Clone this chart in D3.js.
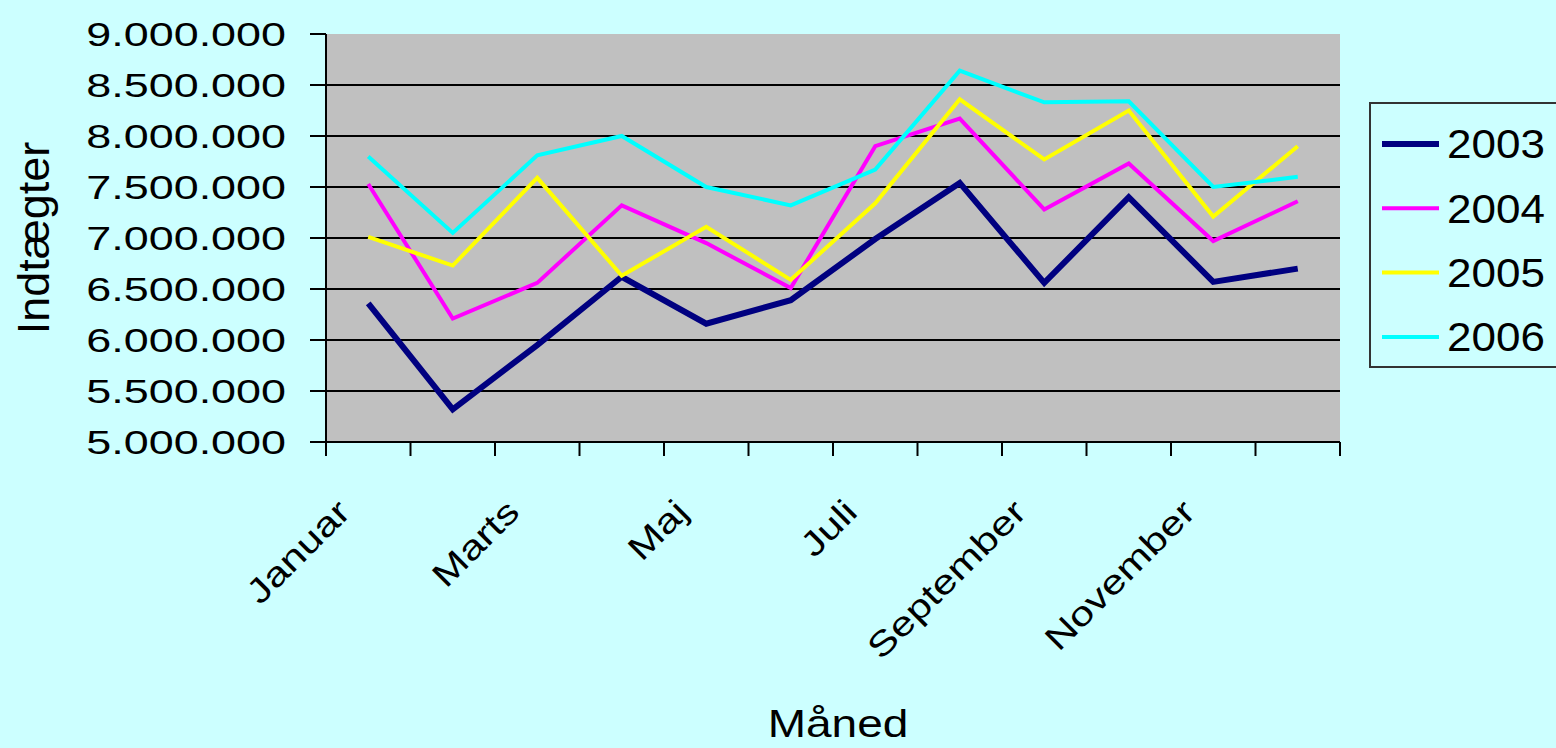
<!DOCTYPE html>
<html>
<head>
<meta charset="utf-8">
<script src="https://cdn.jsdelivr.net/npm/d3@7"></script>
<style>
  body { margin: 0; background: #ccffff; }
  text { font-family: "Liberation Sans", Arial, sans-serif; fill: #000; }
</style>
</head>
<body>
<div id="chart"></div>
<script>
// maanedsindtaegter pr. aar
var months = ["Januar", "Februar", "Marts", "April", "Maj", "Juni",
              "Juli", "August", "September", "Oktober", "November", "December"];
var shownMonths = ["Januar", "Marts", "Maj", "Juli", "September", "November"];
var years = ["2003", "2004", "2005", "2006"];

var v2003 = [6360000, 5320000, 5950000, 6620000, 6160000, 6390000, 6990000, 7540000, 6560000, 7400000, 6570000, 6700000];
var v2004 = [7530000, 6210000, 6560000, 7320000, 6950000, 6510000, 7900000, 8170000, 7280000, 7730000, 6970000, 7360000];
var v2005 = [7010000, 6730000, 7590000, 6630000, 7110000, 6590000, 7340000, 8360000, 7770000, 8250000, 7210000, 7900000];
var v2006 = [7800000, 7050000, 7810000, 8000000, 7500000, 7320000, 7670000, 8640000, 8330000, 8340000, 7500000, 7600000];

var yTicks = [5000000, 5500000, 6000000, 6500000, 7000000, 7500000, 8000000, 8500000, 9000000];
var yTickLabels = ["5.000.000", "5.500.000", "6.000.000", "6.500.000", "7.000.000",
                   "7.500.000", "8.000.000", "8.500.000", "9.000.000"];

var series = [v2003, v2004, v2005, v2006];
var colors = ["#000080", "#ff00ff", "#ffff00", "#00ffff"];
var widths = [6, 4, 4, 4];

var w = 1556;
var h = 748;
var plotL = 326, plotR = 1340, plotT = 34, plotB = 442;

var svg = d3.select("#chart")
    .append("svg")
    .attr("width", w)
    .attr("height", h);

var x = d3.scaleBand()
    .domain(months)
    .range([plotL, plotR])
    .padding(0);

var y = d3.scaleLinear()
    .domain([5000000, 9000000])
    .range([plotB, plotT]);

// stretch text horizontally like the original
function stretch(sel, k) {
  sel.each(function() {
    var l = this.getComputedTextLength();
    d3.select(this).attr("textLength", l * k).attr("lengthAdjust", "spacingAndGlyphs");
  });
}

// plot area
svg.append("rect")
    .attr("x", plotL)
    .attr("y", plotT)
    .attr("width", plotR - plotL)
    .attr("height", plotB - plotT)
    .style("fill", "#c0c0c0");

// gridlines (not at top)
svg.selectAll("line.grid")
    .data(yTicks.slice(1, yTicks.length - 1))
    .enter()
    .append("line")
    .attr("class", "grid")
    .attr("x1", plotL)
    .attr("x2", plotR)
    .attr("y1", function(d) { return y(d); })
    .attr("y2", function(d) { return y(d); })
    .style("stroke", "#000")
    .style("stroke-width", 2);

// y axis
svg.append("line")
    .attr("x1", plotL).attr("x2", plotL)
    .attr("y1", plotT).attr("y2", plotB)
    .style("stroke", "#000").style("stroke-width", 2);

svg.selectAll("line.ytick")
    .data(yTicks)
    .enter()
    .append("line")
    .attr("class", "ytick")
    .attr("x1", plotL - 16)
    .attr("x2", plotL)
    .attr("y1", function(d) { return y(d); })
    .attr("y2", function(d) { return y(d); })
    .style("stroke", "#000")
    .style("stroke-width", 2);

var ylab = svg.selectAll("text.ylab")
    .data(yTicks)
    .enter()
    .append("text")
    .attr("class", "ylab")
    .attr("x", 286)
    .attr("y", function(d) { return y(d); })
    .attr("dy", "0.36em")
    .attr("text-anchor", "end")
    .style("font-size", "34px")
    .text(function(d, i) { return yTickLabels[i]; });
stretch(ylab, 1.32);

// x axis
svg.append("line")
    .attr("x1", plotL).attr("x2", plotR)
    .attr("y1", plotB).attr("y2", plotB)
    .style("stroke", "#000").style("stroke-width", 2);

var edges = months.map(function(m) { return x(m); }).concat([plotR]);
svg.selectAll("line.xtick")
    .data(edges)
    .enter()
    .append("line")
    .attr("class", "xtick")
    .attr("x1", function(d) { return d; })
    .attr("x2", function(d) { return d; })
    .attr("y1", plotB)
    .attr("y2", plotB + 14)
    .style("stroke", "#000")
    .style("stroke-width", 2);

var xlab = svg.selectAll("text.xlab")
    .data(shownMonths)
    .enter()
    .append("text")
    .attr("class", "xlab")
    .attr("text-anchor", "end")
    .attr("transform", function(d) {
      return "translate(" + (x(d) + x.bandwidth() / 2 - 16) + "," + (plotB + 72) + ") rotate(-45)";
    })
    .style("font-size", "34px")
    .text(function(d) { return d; });
stretch(xlab, 1.25);

// lines
var line = d3.line()
    .x(function(d, i) { return x(months[i]) + x.bandwidth() / 2; })
    .y(function(d) { return y(d); });

svg.selectAll("path.series")
    .data(series)
    .enter()
    .append("path")
    .attr("class", "series")
    .attr("d", line)
    .style("fill", "none")
    .style("stroke", function(d, i) { return colors[i]; })
    .style("stroke-width", function(d, i) { return widths[i]; })
    .style("stroke-linejoin", "miter");

// axis titles
svg.append("text")
    .attr("transform", "translate(49," + ((plotT + plotB) / 2) + ") rotate(-90)")
    .attr("text-anchor", "middle")
    .style("font-size", "45px")
    .text("Indtægter");

var xt = svg.append("text")
    .attr("x", (plotL + plotR) / 2 + 5)
    .attr("y", 737)
    .attr("text-anchor", "middle")
    .style("font-size", "39px")
    .text("Måned");
stretch(xt, 1.18);

// legend
svg.append("rect")
    .attr("x", 1370)
    .attr("y", 103)
    .attr("width", 200)
    .attr("height", 264)
    .style("fill", "none")
    .style("stroke", "#333")
    .style("stroke-width", 2);

var leg = svg.selectAll("g.leg")
    .data(years)
    .enter()
    .append("g")
    .attr("class", "leg")
    .attr("transform", function(d, i) { return "translate(1382," + (144 + i * 64.3) + ")"; });

leg.append("line")
    .attr("x1", 0)
    .attr("x2", 57)
    .style("stroke", function(d, i) { return colors[i]; })
    .style("stroke-width", function(d, i) { return widths[i]; });

var legText = leg.append("text")
    .attr("x", 65)
    .attr("dy", "0.36em")
    .style("font-size", "40px")
    .text(function(d) { return d; });
stretch(legText, 1.1);
</script>
</body>
</html>
